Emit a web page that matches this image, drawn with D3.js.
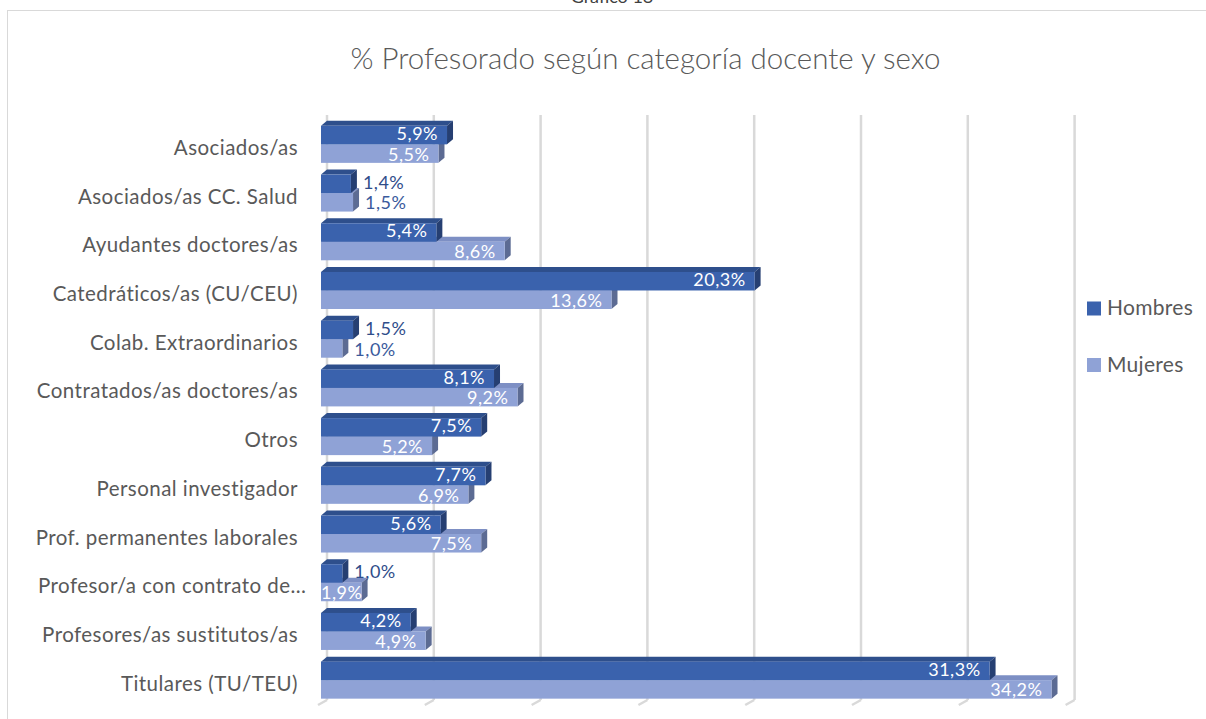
<!DOCTYPE html>
<html>
<head>
<meta charset="utf-8">
<script src="https://cdn.jsdelivr.net/npm/d3@7"></script>
<style>
  html, body { margin: 0; padding: 0; background: #ffffff; }
  svg { display: block; }
</style>
</head>
<body>
<svg id="chart" width="1206" height="719"></svg>
<script>
const categories = [
  "Asociados/as",
  "Asociados/as CC. Salud",
  "Ayudantes doctores/as",
  "Catedráticos/as (CU/CEU)",
  "Colab. Extraordinarios",
  "Contratados/as doctores/as",
  "Otros",
  "Personal investigador",
  "Prof. permanentes laborales",
  "Profesor/a con contrato de…",
  "Profesores/as sustitutos/as",
  "Titulares (TU/TEU)"
];
const hombres = [5.9, 1.4, 5.4, 20.3, 1.5, 8.1, 7.5, 7.7, 5.6, 1.0, 4.2, 31.3];
const mujeres = [5.5, 1.5, 8.6, 13.6, 1.0, 9.2, 5.2, 6.9, 7.5, 1.9, 4.9, 34.2];
const seriesNames = ["Hombres", "Mujeres"];
const xTicks = [0, 5, 10, 15, 20, 25, 30, 35];
const chartTitle = "% Profesorado según categoría docente y sexo";
const pageTitle = "Gráfico 18";

const colors = {
  Hombres: { front: "#3a62ad", top: "#2e4f8c", side: "#263f72", outside: "#2f4d8a" },
  Mujeres: { front: "#8fa2d6", top: "#7d8fc4", side: "#5c6b93", outside: "#3a5a9c" }
};

const svg = d3.select("#chart");
const FONT = "Lato, 'Open Sans', sans-serif";
const DX = 6, DY = 5;

// frame
svg.append("rect").attr("x", 7.5).attr("y", 10.5).attr("width", 1220).attr("height", 730)
  .attr("fill", "none").attr("stroke", "#d9d9d9").attr("stroke-width", 1);

svg.append("text").attr("x", 612).attr("y", 3).attr("text-anchor", "middle")
  .attr("font-family", FONT).attr("font-size", 18).attr("fill", "#404040").text(pageTitle);

svg.append("text").attr("x", 645.5).attr("y", 68.5).attr("text-anchor", "middle")
  .attr("font-family", FONT).attr("font-size", 29.5).attr("font-weight", 300).attr("fill", "#595959")
  .text(chartTitle);

const x = d3.scaleLinear().domain([0, 35]).range([321, 321 + 35 * 21.36]);
const y = d3.scaleBand().domain(categories).range([120, 704.5]).paddingInner(0.24).paddingOuter(0.12);
const yS = d3.scaleBand().domain(seriesNames).range([0, y.bandwidth()]);

// back-wall gridlines
const grid = svg.append("g");
grid.selectAll("line.v").data(xTicks).join("line")
  .attr("x1", d => x(d) + DX).attr("x2", d => x(d) + DX)
  .attr("y1", 115).attr("y2", 700)
  .attr("stroke", "#d9d9d9").attr("stroke-width", 2.5);
grid.selectAll("line.f").data(xTicks).join("line")
  .attr("x1", d => x(d) - 3).attr("x2", d => x(d) + DX)
  .attr("y1", 705).attr("y2", 700)
  .attr("stroke", "#d9d9d9").attr("stroke-width", 2.5);

// category labels
const labelLeft = 38, labelRight = 298;
svg.append("g").selectAll("text").data(categories).join("text")
  .attr("x", d => d.endsWith("…") ? labelLeft : labelRight)
  .attr("y", d => y(d) + y.bandwidth() / 2 + 10.5)
  .attr("text-anchor", d => d.endsWith("…") ? "start" : "end")
  .attr("font-family", FONT).attr("font-size", 20.5).attr("letter-spacing", 0.45)
  .attr("fill", "#595959").text(d => d);

const rows = categories.map((c, i) => ({ c, Hombres: hombres[i], Mujeres: mujeres[i] }));

function drawBar(g, name, v, cat) {
  const col = colors[name];
  const x0 = x(0), x1 = x(v);
  const y0 = y(cat) + yS(name), y1 = y0 + yS.bandwidth();
  g.append("path").attr("fill", col.top)
    .attr("d", `M${x0},${y0}L${x0 + DX},${y0 - DY}L${x1 + DX},${y0 - DY}L${x1},${y0}Z`);
  g.append("path").attr("fill", col.side)
    .attr("d", `M${x1},${y0}L${x1 + DX},${y0 - DY}L${x1 + DX},${y1 - DY}L${x1},${y1}Z`);
  g.append("rect").attr("x", x0).attr("y", y0).attr("width", x1 - x0).attr("height", y1 - y0)
    .attr("fill", col.front);
}

const barsG = svg.append("g");
rows.forEach(r => {
  ["Mujeres", "Hombres"].forEach(name => drawBar(barsG, name, r[name], r.c));
});

// value labels
const labShift = { Hombres: -1.6, Mujeres: 0.6 };
const labG = svg.append("g");
rows.forEach(r => {
  seriesNames.forEach(name => {
    const v = r[name];
    const cy = y(r.c) + yS(name) + yS.bandwidth() / 2 + labShift[name];
    const txt = v.toFixed(1).replace(".", ",") + "%";
    const t = labG.append("text").attr("y", cy).attr("dy", "0.36em")
      .attr("font-family", FONT).attr("font-size", 18).attr("letter-spacing", 0.5).text(txt);
    if (v < 1.7) {
      t.attr("x", x(v) + DX + 6).attr("text-anchor", "start").attr("fill", colors[name].outside);
    } else {
      const w = t.node().getComputedTextLength();
      const xe = Math.max(x(v) - 9, x(0) + w);
      t.attr("x", xe).attr("text-anchor", "end").attr("fill", "#ffffff");
    }
  });
});

// legend
const leg = svg.append("g");
seriesNames.forEach((name, i) => {
  const ly = 301.5 + i * 56.5;
  leg.append("rect").attr("x", 1087).attr("y", ly).attr("width", 14).attr("height", 14)
    .attr("fill", colors[name].front);
  leg.append("text").attr("x", 1107).attr("y", ly + 13.5).attr("font-family", FONT)
    .attr("font-size", 21).attr("letter-spacing", 0.3).attr("fill", "#595959").text(name);
});
</script>
</body>
</html>
